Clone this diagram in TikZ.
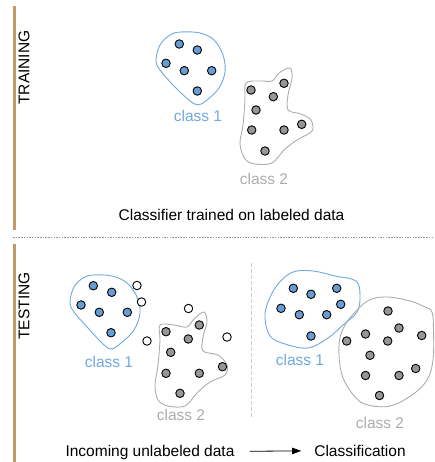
\documentclass[tikz,border=0pt]{standalone}
\usepackage{fontspec}
\setmainfont{Liberation Sans}
\usetikzlibrary{arrows.meta}

\definecolor{sidetan}{RGB}{193,154,107}
\definecolor{dotblue}{RGB}{104,156,212}
\definecolor{lineblue}{RGB}{111,168,222}
\definecolor{dotgray}{RGB}{150,150,150}
\definecolor{linegray}{RGB}{172,172,172}

\begin{document}
\begin{tikzpicture}[x=1pt,y=-1pt,
  txt/.style={inner sep=0pt,anchor=base,font=\fontsize{15.5pt}{18pt}\selectfont},
  sidelabel/.style={txt,anchor=center,rotate=90},
  bluelabel/.style={txt,text=lineblue},
  graylabel/.style={txt,text=linegray},
  dot/.style={circle,draw=black,line width=0.9pt,minimum size=8.5pt,inner sep=0pt},
  bluedot/.style={dot,fill=dotblue},
  graydot/.style={dot,fill=dotgray},
  newdot/.style={dot,fill=white},
  blueblob/.style={draw=lineblue,line width=0.9pt},
  grayblob/.style={draw=linegray,line width=0.9pt},
  sidebar/.style={draw=sidetan,line width=2.5pt}]
\useasboundingbox (0,0) rectangle (434,462);

%Side bars and separators
\draw [sidebar] (14.5,6.5) -- (14.5,230) ;
\draw [sidebar] (14.5,244) -- (14.5,462) ;
\draw [dotgray,line width=1.5pt,dash pattern=on 1.5pt off 1.2pt] (13,237.5) -- (434,237.5) ;
\draw [black!20,line width=1pt,dash pattern=on 4pt off 2pt] (251.7,263) -- (251.7,419) ;

% Text Node
\node [sidelabel] (training) at (24,67.5) {TRAINING};
% Text Node
\node [sidelabel] (testing) at (24,306) {TESTING};

%Shape: Blob [training, class 1]
\draw [blueblob] plot [smooth cycle,tension=0.6] coordinates {(181,32) (200,33) (214,40) (223,55) (225,72) (219,88) (207,100) (198,105) (189,100) (174,86) (160,70) (156,60) (160,45) (170,35)} ;
%Shape: Blob [training, class 2]
\draw [grayblob] plot [smooth cycle,tension=0.55] coordinates {(246,83) (260,81) (272,81) (279,73) (290,68) (292,78) (288,95) (288,110) (301,114) (311,120) (312,131) (297,140) (284,150) (272,163) (255,164) (245,159) (240,144) (243,125) (245,100)} ;

\node [bluedot] (tb1) at (179.3,44) {};
\node [bluedot] (tb2) at (197.3,50) {};
\node [bluedot] (tb3) at (166,63.3) {};
\node [bluedot] (tb4) at (184.3,70.7) {};
\node [bluedot] (tb5) at (211.7,70.7) {};
\node [bluedot] (tb6) at (197.3,91) {};

\node [graydot] (tg1) at (251,90) {};
\node [graydot] (tg2) at (284,83.3) {};
\node [graydot] (tg3) at (273.3,96.7) {};
\node [graydot] (tg4) at (256,110) {};
\node [graydot] (tg5) at (251.7,130) {};
\node [graydot] (tg6) at (284,130) {};
\node [graydot] (tg7) at (301.7,124.3) {};
\node [graydot] (tg8) at (265,151) {};

% Text Node
\node [bluelabel] (tclassone) at (198,121.5) {class 1};
% Text Node
\node [graylabel] (tclasstwo) at (264,184) {class 2};
% Text Node
\node [txt] (trained) at (231.5,220) {Classifier trained on labeled data};

%Shape: Blob [testing, class 1]
\draw [blueblob] plot [smooth cycle,tension=0.6] coordinates {(93,275) (112,276) (127,283) (137,297) (140,313) (134,330) (121,343) (111,349) (102,343) (88,328) (74,312) (70,302) (74,287) (83,278)} ;
%Shape: Blob [testing, class 2]
\draw [grayblob] plot [smooth cycle,tension=0.55] coordinates {(160,325) (174,325) (187,327) (194,319) (204,312) (207,322) (203,337) (203,351) (218,355) (227,365) (225,375) (210,382) (197,393) (185,406) (168,406) (158,400) (155,385) (158,365) (160,340)} ;

\node [bluedot] (lb1) at (93.3,285.7) {};
\node [bluedot] (lb2) at (111.7,292.3) {};
\node [bluedot] (lb3) at (81,305) {};
\node [bluedot] (lb4) at (99.3,312.3) {};
\node [bluedot] (lb5) at (127.3,312.3) {};
\node [bluedot] (lb6) at (111,332.7) {};

\node [graydot] (lg1) at (166,331.7) {};
\node [graydot] (lg2) at (199.3,325) {};
\node [graydot] (lg3) at (188.3,339) {};
\node [graydot] (lg4) at (170.7,352.3) {};
\node [graydot] (lg5) at (166,373.3) {};
\node [graydot] (lg6) at (199.3,373.3) {};
\node [graydot] (lg7) at (222.5,366.7) {};
\node [graydot] (lg8) at (180,393.3) {};

\node [newdot] (w1) at (137,285.5) {};
\node [newdot] (w2) at (141.5,302) {};
\node [newdot] (w3) at (188.5,308.5) {};
\node [newdot] (w4) at (147,341) {};
\node [newdot] (w5) at (227,337) {};

% Text Node
\node [bluelabel] (lclassone) at (109,367) {class 1};
% Text Node
\node [graylabel] (lclasstwo) at (181,420) {class 2};

%Shape: Blob [classified, class 1]
\draw [blueblob] plot [smooth cycle,tension=0.6] coordinates {(293,272) (313,271) (335,276) (356,281) (360,296) (357,312) (343,325) (328,338) (308,348) (285,344) (270,336) (265,318) (268,302) (278,284)} ;
%Shape: Blob [classified, class 2]
\draw [grayblob] plot [smooth cycle,tension=0.6] coordinates {(388,297) (410,301) (425,307) (432,312) (433.5,330) (433,360) (427,380) (412,395) (390,406) (368,405) (355,397) (342,375) (339,345) (345,325) (360,307) (372,299)} ;

\node [bluedot] (rb1) at (293.3,288.3) {};
\node [bluedot] (rb2) at (311,294.3) {};
\node [bluedot] (rb3) at (336.7,288.3) {};
\node [bluedot] (rb4) at (340.7,304.3) {};
\node [bluedot] (rb5) at (281,308.3) {};
\node [bluedot] (rb6) at (299.3,314.7) {};
\node [bluedot] (rb7) at (326.7,314.7) {};
\node [bluedot] (rb8) at (311,336) {};

\node [graydot] (rg1) at (388,311) {};
\node [graydot] (rg2) at (365.5,334) {};
\node [graydot] (rg3) at (399,328) {};
\node [graydot] (rg4) at (421.7,335.5) {};
\node [graydot] (rg5) at (346.7,341) {};
\node [graydot] (rg6) at (387.7,341) {};
\node [graydot] (rg7) at (370,355.3) {};
\node [graydot] (rg8) at (365.5,375.5) {};
\node [graydot] (rg9) at (399,375.5) {};
\node [graydot] (rg10) at (415.7,368.5) {};
\node [graydot] (rg11) at (379.5,395.5) {};

% Text Node
\node [bluelabel] (rclassone) at (300,365) {class 1};
% Text Node
\node [graylabel] (rclasstwo) at (380,428) {class 2};

% Text Node
\node [txt] (incoming) at (150,456) {Incoming unlabeled data};
% Text Node
\node [txt] (classif) at (360,456) {Classification};
%Straight Lines
\draw [line width=0.8pt,-{Triangle[length=9pt,width=6.5pt]},shorten <=15pt,shorten >=13pt] (incoming) -- (classif) ;

\end{tikzpicture}
\end{document}
